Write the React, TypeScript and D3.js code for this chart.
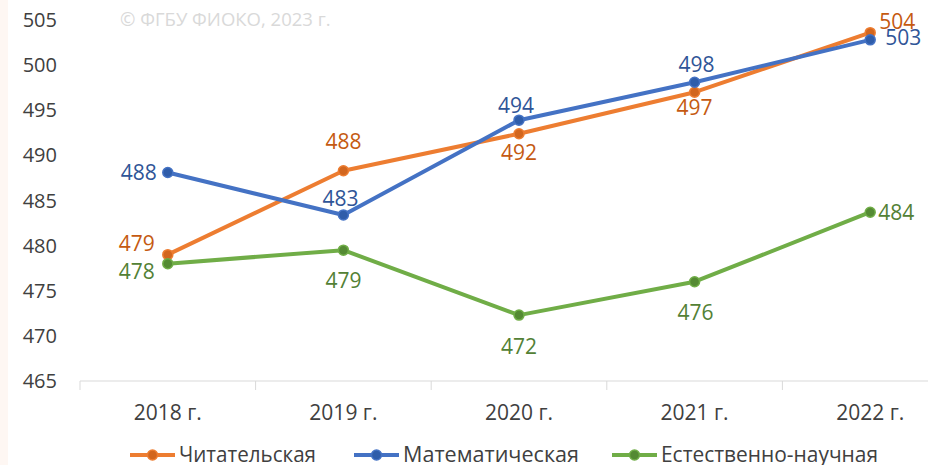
import React from "react";
import * as d3 from "d3";

const years = ["2018 г.", "2019 г.", "2020 г.", "2021 г.", "2022 г."];
const reading = [479.0, 488.3, 492.4, 497.0, 503.6];
const math = [488.1, 483.4, 493.9, 498.1, 502.8];
const science = [478.0, 479.5, 472.3, 476.0, 483.7];
const readingLabels = ["479", "488", "492", "497", "504"];
const mathLabels = ["488", "483", "494", "498", "503"];
const scienceLabels = ["478", "479", "472", "476", "484"];
const yTicks = [465, 470, 475, 480, 485, 490, 495, 500, 505];
const seriesNames = ["Читательская", "Математическая", "Естественно-научная"];

// label placement (layout only): [dx, dy, anchor]
type LP = [number, number, string];
const readingLP: LP[] = [[-13, -11, "end"], [0, -29, "middle"], [0, 19, "middle"], [0, 15, "middle"], [27, -11, "middle"]];
const mathLP: LP[] = [[-11, 0, "end"], [-3, -16, "middle"], [-3, -15, "middle"], [2, -18, "middle"], [15, -2, "start"]];
const scienceLP: LP[] = [[-13, 8, "end"], [0, 31, "middle"], [0, 32, "middle"], [1, 31, "middle"], [8, 0, "start"]];

const W = 928;
const H = 465;

export default function App() {
  const x0 = 80;
  const step = 175.6;
  const x = d3
    .scaleBand<string>()
    .domain(years)
    .range([x0, x0 + step * years.length]);
  const y = d3.scaleLinear().domain([465, 505]).range([381, 20]);
  const cx = (i: number) => (x(years[i]) as number) + x.bandwidth() / 2;

  const series = [
    { name: seriesNames[0], vals: reading, labels: readingLabels, lp: readingLP, line: "#ED7D31", dot: "#D2661E", text: "#C55A11", lx: 130, tl: 137 },
    { name: seriesNames[1], vals: math, labels: mathLabels, lp: mathLP, line: "#4472C4", dot: "#2F5DAA", text: "#2F5597", lx: 354, tl: 176 },
    { name: seriesNames[2], vals: science, labels: scienceLabels, lp: scienceLP, line: "#70AD47", dot: "#548A33", text: "#538135", lx: 612, tl: 217 },
  ];

  const lineGen = d3
    .line<number>()
    .x((_, i) => cx(i))
    .y((d) => y(d));

  const font = "'Open Sans', sans-serif";

  return (
    <svg width={W} height={H} style={{ position: "absolute", left: 0, top: 0, background: "#fff" }}>
      <rect x={0} y={0} width={W} height={H} fill="#ffffff" />
      <rect x={0} y={0} width={8} height={H} fill="#FEF7F3" />
      <text x={120} y={20} dy="0.35em" fontFamily={font} fontSize={18.5} fill="#D9D9D9">
        © ФГБУ ФИОКО, 2023 г.
      </text>
      {yTicks.map((t) => (
        <text key={t} x={57} y={y(t)} dy="0.35em" textAnchor="end" fontFamily={font} fontSize={20} fill="#404040">
          {t}
        </text>
      ))}
      <line x1={x0} x2={W} y1={y(465)} y2={y(465)} stroke="#D9D9D9" strokeWidth={1} />
      {d3.range(years.length + 1).map((i) => (
        <line key={i} x1={x0 + i * step} x2={x0 + i * step} y1={y(465)} y2={y(465) + 9} stroke="#D9D9D9" strokeWidth={1} />
      ))}
      {years.map((yr, i) => (
        <text key={yr} x={cx(i)} y={413} dy="0.35em" textAnchor="middle" fontFamily={font} fontSize={21} fill="#404040">
          {yr}
        </text>
      ))}
      {series.map((s) => (
        <g key={s.name}>
          <path d={lineGen(s.vals) || ""} fill="none" stroke={s.line} strokeWidth={4} strokeLinejoin="round" strokeLinecap="round" />
          {s.vals.map((v, i) => (
            <circle key={i} cx={cx(i)} cy={y(v)} r={5} fill={s.dot} stroke={s.line} strokeWidth={1.5} />
          ))}
        </g>
      ))}
      {series.map((s) =>
        s.vals.map((v, i) => {
          const [dx, dy, anchor] = s.lp[i];
          return (
            <text key={s.name + i} x={cx(i) + dx} y={y(v) + dy} dy="0.35em" textAnchor={anchor as any} fontFamily={font} fontSize={21} fill={s.text}>
              {s.labels[i]}
            </text>
          );
        })
      )}
      {series.map((s) => (
        <g key={s.name} transform={`translate(${s.lx},455)`}>
          <line x1={0} x2={45} y1={0} y2={0} stroke={s.line} strokeWidth={4} />
          <circle cx={22.5} cy={0} r={5} fill={s.dot} stroke={s.line} strokeWidth={1.5} />
          <text x={49} y={7} fontFamily={font} fontSize={22} fill="#404040" textLength={s.tl} lengthAdjust="spacingAndGlyphs">
            {s.name}
          </text>
        </g>
      ))}
    </svg>
  );
}
